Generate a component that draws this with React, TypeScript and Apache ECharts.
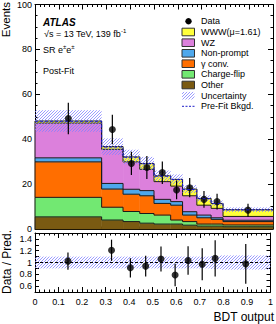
import React, { useEffect, useRef } from "react";
import * as echarts from "echarts";

const binEdges = [0, 0.28, 0.37, 0.44, 0.5, 0.57, 0.62, 0.68, 0.74, 0.79, 1.0];
const otherVals = [5.4, 4.0, 3.3, 2.6, 2.2, 2.2, 1.7, 1.3, 1.3, 1.0];
const chargeFlipVals = [8.7, 5.7, 4.5, 4.3, 4.0, 1.8, 1.6, 0.9, 0.9, 0.8];
const gammaConvVals = [15.8, 8.1, 7.7, 7.9, 5.2, 6.6, 2.9, 2.8, 2.1, 1.5];
const nonPromptVals = [1.8, 2.5, 2.2, 2.3, 1.8, 1.6, 1.5, 1.2, 0.7, 0.6];
const wzVals = [15.5, 15.2, 12.2, 9.5, 7.9, 6.9, 7.1, 4.4, 4.2, 1.7];
const wwwVals = [0.9, 1.2, 2.2, 2.6, 2.6, 3.0, 3.0, 3.0, 2.2, 3.0];
const dataCenters = [0.14, 0.325, 0.405, 0.47, 0.535, 0.595, 0.65, 0.71, 0.765, 0.895];
const dataVals = [49.2, 44.3, 29.2, 27.4, 25.1, 17.4, 18.4, 13.2, 12.2, 8.4];
const dataErrs = [7.0, 6.6, 5.2, 5.1, 5.0, 4.2, 4.3, 3.7, 3.5, 2.9];
const relUncert = [0.1, 0.1, 0.1, 0.1, 0.1, 0.1, 0.1, 0.1, 0.11, 0.12];
const preFitVals = [48.0, 36.5, 32.0, 29.0, 23.5, 22.0, 17.6, 13.5, 11.3, 8.5];

const stackNames = ["Other", "Charge-flip", "γ conv.", "Non-prompt", "WZ", "WWW(μ=1.61)"];
const stackColors = ["#7a5a12", "#72e872", "#ff6e00", "#4ea8ec", "#dc80dc", "#ffff3a"];
const stackValues = [otherVals, chargeFlipVals, gammaConvVals, nonPromptVals, wzVals, wwwVals];

const FONT = "Liberation Sans, Arial, sans-serif";
const HATCH_COLOR = "#8282ff";
const HATCH_STEP = 3;

// diagonal "/" hatch segments inside a pixel rectangle
function hatchSegments(x0: number, y0: number, x1: number, y1: number) {
  const segs: number[][] = [];
  const cStart = Math.ceil((x0 + y0) / HATCH_STEP) * HATCH_STEP;
  for (let c = cStart; c <= x1 + y1; c += HATCH_STEP) {
    const xa = Math.max(x0, c - y1);
    const xb = Math.min(x1, c - y0);
    if (xb > xa) segs.push([xa, c - xa, xb, c - xb]);
  }
  return segs;
}

export default function App() {
  const ref = useRef<HTMLDivElement>(null);
  useEffect(() => {
    if (!ref.current) return;
    const chart = echarts.init(ref.current, undefined, { renderer: "svg" });
    const nb = binEdges.length - 1;

    const layers: number[][][] = [];
    const cum = new Array(nb).fill(0);
    stackValues.forEach((vals) => {
      const items: number[][] = [];
      for (let i = 0; i < nb; i++) {
        items.push([binEdges[i], binEdges[i + 1], cum[i], cum[i] + vals[i]]);
        cum[i] += vals[i];
      }
      layers.push(items);
    });
    const total = cum.slice();

    const fillRender = (color: string) => (params: any, api: any) => {
      const x0 = api.value(0), x1 = api.value(1), y0 = api.value(2), y1 = api.value(3);
      const tl = api.coord([x0, y1]);
      const br = api.coord([x1, y0]);
      return {
        type: "rect",
        shape: { x: tl[0], y: tl[1], width: br[0] - tl[0], height: br[1] - tl[1] },
        style: { fill: color, stroke: color, lineWidth: 0.5 },
      };
    };
    const outlineRender = (params: any, api: any) => {
      const i = params.dataIndexInside;
      const x0 = api.value(0), x1 = api.value(1), y0 = api.value(2), y1 = api.value(3);
      const prevTop = i > 0 ? api.value(3, i - 1) : y0;
      return {
        type: "polyline",
        shape: { points: [api.coord([x0, prevTop]), api.coord([x0, y1]), api.coord([x1, y1])] },
        style: { fill: null, stroke: "#1a1a1a", lineWidth: 1 },
      };
    };
    const bandRender = (params: any, api: any) => {
      const x0 = api.value(0), x1 = api.value(1), y0 = api.value(2), y1 = api.value(3);
      const tl = api.coord([x0, y1]);
      const br = api.coord([x1, y0]);
      const segs = hatchSegments(tl[0], tl[1], br[0], br[1]);
      const d = segs.map((s) => `M${s[0].toFixed(2)} ${s[1].toFixed(2)}L${s[2].toFixed(2)} ${s[3].toFixed(2)}`).join("");
      return {
        type: "path",
        shape: { pathData: d || "M0 0", layout: "center" },
        style: { fill: null, stroke: HATCH_COLOR, lineWidth: 0.8 },
      };
    };
    const errRender = (params: any, api: any) => {
      const x = api.value(0), y = api.value(1), e = api.value(2);
      const a = api.coord([x, y - e]);
      const b = api.coord([x, y + e]);
      return {
        type: "line",
        shape: { x1: a[0], y1: a[1], x2: b[0], y2: b[1] },
        style: { stroke: "#000", lineWidth: 1.2 },
      };
    };

    const series: any[] = [];
    layers.forEach((items, k) => {
      series.push({
        type: "custom", xAxisIndex: 0, yAxisIndex: 0, data: items,
        encode: { x: [0, 1], y: [2, 3] }, renderItem: fillRender(stackColors[k]), silent: true,
      });
    });
    layers.forEach((items) => {
      series.push({
        type: "custom", xAxisIndex: 0, yAxisIndex: 0, data: items,
        encode: { x: [0, 1], y: [2, 3] }, renderItem: outlineRender, silent: true,
      });
    });
    series.push({
      type: "custom", xAxisIndex: 0, yAxisIndex: 0,
      data: total.map((t, i) => [binEdges[i], binEdges[i + 1], t * (1 - relUncert[i]), t * (1 + relUncert[i])]),
      encode: { x: [0, 1], y: [2, 3] }, renderItem: bandRender, silent: true,
    });
    const preData = preFitVals.map((v, i) => [binEdges[i], v]);
    preData.push([1, preFitVals[nb - 1]]);
    series.push({
      type: "line", xAxisIndex: 0, yAxisIndex: 0, data: preData, step: "end", symbol: "none",
      lineStyle: { color: "#1c1cc8", width: 1, type: [3, 2] }, silent: true,
    });
    series.push({
      type: "custom", xAxisIndex: 0, yAxisIndex: 0,
      data: dataVals.map((v, i) => [dataCenters[i], v, dataErrs[i]]),
      encode: { x: 0, y: 1 }, renderItem: errRender, silent: true,
    });
    series.push({
      type: "scatter", xAxisIndex: 0, yAxisIndex: 0,
      data: dataVals.map((v, i) => [dataCenters[i], v]),
      symbol: "circle", symbolSize: 7, itemStyle: { color: "#000" }, silent: true,
    });
    series.push({
      type: "custom", xAxisIndex: 2, yAxisIndex: 2,
      data: relUncert.map((u, i) => [binEdges[i], binEdges[i + 1], 1 - u, 1 + u]),
      encode: { x: [0, 1], y: [2, 3] }, renderItem: bandRender, silent: true,
    });
    series.push({
      type: "line", xAxisIndex: 2, yAxisIndex: 2, data: [[0, 1], [1, 1]], symbol: "none",
      lineStyle: { color: "#000", width: 1, type: [3, 2] }, silent: true,
    });
    series.push({
      type: "custom", xAxisIndex: 2, yAxisIndex: 2,
      data: dataVals.map((v, i) => [dataCenters[i], v / total[i], dataErrs[i] / total[i]]),
      encode: { x: 0, y: 1 }, renderItem: errRender, silent: true,
    });
    series.push({
      type: "scatter", xAxisIndex: 2, yAxisIndex: 2,
      data: dataVals.map((v, i) => [dataCenters[i], v / total[i]]),
      symbol: "circle", symbolSize: 7, itemStyle: { color: "#000" }, silent: true,
    });

    const axisLine = { show: true, onZero: false, lineStyle: { color: "#000", width: 1 } };
    const tick = { show: true, inside: true, length: 5, lineStyle: { color: "#000", width: 1 } };
    const minor = { show: true, splitNumber: 5, length: 2.5, lineStyle: { color: "#000", width: 1 } };
    const lbl = { color: "#000", fontSize: 9, fontFamily: FONT };

    const xBase = (grid: number, pos: string, showLabel: boolean) => ({
      type: "value", gridIndex: grid, position: pos, min: 0, max: 1, interval: 0.1,
      axisLine, axisTick: tick, minorTick: minor, splitLine: { show: false },
      axisLabel: showLabel
        ? { ...lbl, margin: 5, formatter: (v: number) => { const r = Math.round(v * 10); return r === 0 ? "0" : r === 10 ? "1" : (r / 10).toFixed(1); } }
        : { show: false },
    });

    const legendY = [21.3, 32, 42.7, 53.3, 63.7, 74.3, 85, 95.7, 106.3];
    const legendOrder = [5, 4, 3, 2, 1, 0];
    const graphics: any[] = [];
    graphics.push({ type: "circle", shape: { cx: 188.5, cy: legendY[0], r: 3.2 }, style: { fill: "#000" } });
    graphics.push({ type: "text", x: 201, y: legendY[0], style: { text: "Data", fill: "#000", fontSize: 9, fontFamily: FONT, verticalAlign: "middle" } });
    legendOrder.forEach((k, j) => {
      const y = legendY[j + 1];
      graphics.push({ type: "rect", shape: { x: 182, y: y - 3.8, width: 12.5, height: 7.6 }, style: { fill: stackColors[k], stroke: "#333", lineWidth: 1 } });
      graphics.push({ type: "text", x: 201, y, style: { text: stackNames[k], fill: "#000", fontSize: 9, fontFamily: FONT, verticalAlign: "middle" } });
    });
    hatchSegments(182, legendY[7] - 3.8, 194.5, legendY[7] + 3.8).forEach((s) => {
      graphics.push({ type: "line", shape: { x1: s[0], y1: s[1], x2: s[2], y2: s[3] }, style: { stroke: HATCH_COLOR, lineWidth: 0.8 } });
    });
    graphics.push({ type: "text", x: 201, y: legendY[7], style: { text: "Uncertainty", fill: "#000", fontSize: 9, fontFamily: FONT, verticalAlign: "middle" } });
    graphics.push({ type: "line", shape: { x1: 182, y1: legendY[8], x2: 195, y2: legendY[8] }, style: { stroke: "#1c1cc8", lineWidth: 1, lineDash: [2, 1.5] } });
    graphics.push({ type: "text", x: 201, y: legendY[8], style: { text: "Pre-Fit Bkgd.", fill: "#000", fontSize: 9, fontFamily: FONT, verticalAlign: "middle" } });

    graphics.push({ type: "text", x: 43, y: 22.3, style: { text: "ATLAS", fill: "#000", fontSize: 10, fontWeight: "bold", fontStyle: "italic", fontFamily: FONT, verticalAlign: "middle" } });
    graphics.push({
      type: "text", x: 44, y: 33.5,
      style: {
        text: "{n|√s = 13 TeV, 139 fb}{s|-1}", verticalAlign: "middle", fontFamily: FONT,
        rich: { n: { fontSize: 9, fill: "#000", fontFamily: FONT }, s: { fontSize: 6, fill: "#000", fontFamily: FONT, verticalAlign: "top", padding: [0, 0, 6, 0] } },
      },
    });
    graphics.push({
      type: "text", x: 43, y: 50,
      style: {
        text: "{n|SR e}{s|±}{n|e}{s|±}", verticalAlign: "middle", fontFamily: FONT,
        rich: { n: { fontSize: 9, fill: "#000", fontFamily: FONT }, s: { fontSize: 6, fill: "#000", fontFamily: FONT, padding: [0, 0, 6, 0] } },
      },
    });
    graphics.push({ type: "text", x: 43, y: 71, style: { text: "Post-Fit", fill: "#000", fontSize: 9, fontFamily: FONT, verticalAlign: "middle" } });
    graphics.push({ type: "text", x: 6, y: 2, rotation: Math.PI / 2, style: { text: "Events", fill: "#000", fontSize: 11.5, fontFamily: FONT, align: "right", verticalAlign: "middle" } });
    graphics.push({ type: "text", x: 7, y: 262, rotation: Math.PI / 2, style: { text: "Data / Pred.", fill: "#000", fontSize: 12, fontFamily: FONT, align: "center", verticalAlign: "middle" } });
    graphics.push({ type: "text", x: 274, y: 317, style: { text: "BDT output", fill: "#000", fontSize: 12, fontFamily: FONT, align: "right", verticalAlign: "middle" } });

    chart.setOption({
      animation: false,
      backgroundColor: "#fff",
      grid: [
        { left: 35, top: 4, width: 238, height: 225 },
        { left: 35, top: 233, width: 238, height: 59 },
      ],
      xAxis: [xBase(0, "bottom", false), xBase(0, "top", false), xBase(1, "bottom", true), xBase(1, "top", false)],
      yAxis: [
        {
          type: "value", gridIndex: 0, position: "left", min: 0, max: 100, interval: 20,
          axisLine, axisTick: tick, minorTick: { ...minor, splitNumber: 4 }, splitLine: { show: false },
          axisLabel: { ...lbl, margin: 3 },
        },
        {
          type: "value", gridIndex: 0, position: "right", min: 0, max: 100, interval: 20,
          axisLine, axisTick: tick, minorTick: { ...minor, splitNumber: 4 }, splitLine: { show: false },
          axisLabel: { show: false },
        },
        {
          type: "value", gridIndex: 1, position: "left", min: 0.5, max: 1.5, interval: 0.1,
          axisLine, axisTick: { ...tick, length: 4 }, splitLine: { show: false },
          axisLabel: {
            ...lbl, margin: 3,
            formatter: (v: number) => { const r = Math.round(v * 10); if (r % 2 === 1) return ""; return r === 10 ? "1" : (r / 10).toFixed(1); },
          },
        },
        {
          type: "value", gridIndex: 1, position: "right", min: 0.5, max: 1.5, interval: 0.1,
          axisLine, axisTick: { ...tick, length: 4 }, splitLine: { show: false }, axisLabel: { show: false },
        },
      ],
      series,
      graphic: graphics,
    });
    return () => chart.dispose();
  }, []);
  return <div ref={ref} style={{ width: 276, height: 324, position: "absolute", left: 0, top: 0 }} />;
}
